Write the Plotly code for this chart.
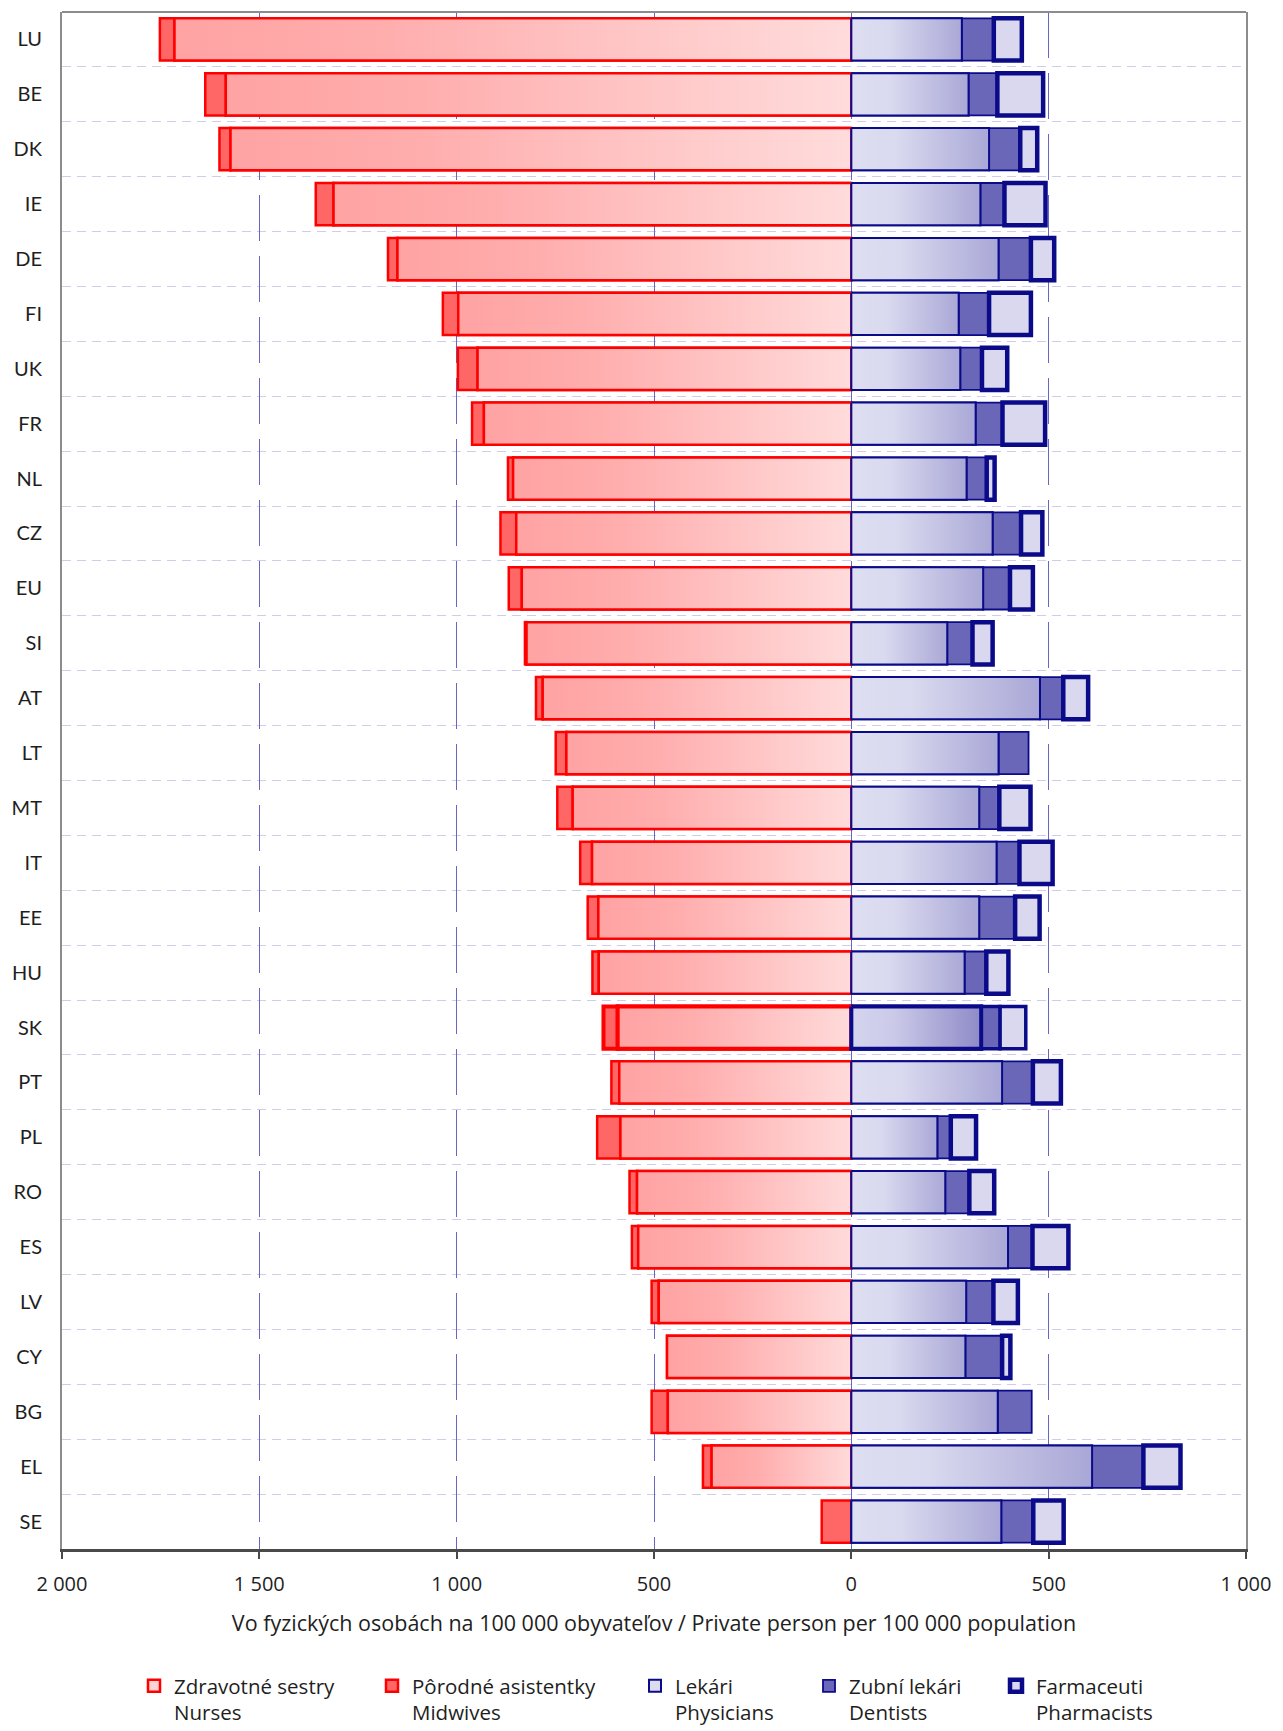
import plotly.graph_objects as go

# Health professionals per 100 000 inhabitants, EU countries
countries = ["LU", "BE", "DK", "IE", "DE", "FI", "UK", "FR", "NL", "CZ", "EU", "SI", "AT", "LT",
             "MT", "IT", "EE", "HU", "SK", "PT", "PL", "RO", "ES", "LV", "CY", "BG", "EL", "SE"]
nurses = [1715, 1585, 1573, 1312, 1150, 996, 947, 931, 857, 849, 835, 823, 782, 722,
          706, 657, 641, 640, 592, 588, 585, 543, 540, 488, 467, 465, 354, 0]
midwives = [37, 52, 28, 45, 24, 39, 50, 30, 13, 40, 33, 4, 17, 27,
            39, 30, 27, 16, 36, 20, 59, 19, 16, 18, 0, 41, 22, 75]
physicians = [280, 297, 349, 327, 373, 272, 276, 315, 292, 358, 334, 243, 478, 373,
              324, 368, 324, 287, 329, 382, 218, 238, 397, 291, 289, 371, 610, 380]
dentists = [81, 73, 79, 61, 82, 77, 55, 68, 51, 72, 68, 64, 59, 76,
            51, 58, 91, 55, 48, 78, 34, 61, 62, 69, 93, 86, 130, 81]
pharmacists = [71, 116, 43, 104, 59, 106, 64, 108, 20, 54, 58, 51, 63, 0,
               79, 84, 62, 56, 65, 71, 64, 63, 91, 62, 21, 0, 94, 77]

x_ticks = [-2000, -1500, -1000, -500, 0, 500, 1000]
x_tick_text = ["2 000", "1 500", "1 000", "500", "0", "500", "1 000"]
x_title = "Vo fyzických osobách na 100 000 obyvateľov / Private person per 100 000 population"
highlight = "SK"

n = len(countries)
pos = list(range(n))
BAR_W = 0.77
HALF = BAR_W / 2
hl = countries.index(highlight)

RED = "#FF0000"
NAVY = "#0B0B8A"
LABEL_FONT = "Lato"
TEXT_FONT = "Open Sans"
INK = "#1E1E1E"


def widths(base, thick):
    return [thick if i == hl else base for i in range(n)]


def neg(vals):
    return [-v if v else None for v in vals]


def keep(vals):
    return [v if v else None for v in vals]


fig = go.Figure()

# --- stacked bars (also provide the legend entries) ---
fig.add_trace(go.Bar(
    y=pos, x=neg(nurses), base=0, orientation="h", width=BAR_W,
    name="Zdravotné sestry<br>Nurses", legend="legend",
    marker=dict(color="#FFD3D3", line=dict(color=RED, width=widths(2.5, 4))),
    hoverinfo="skip"))
fig.add_trace(go.Bar(
    y=pos, x=neg(midwives), base=[-v for v in nurses], orientation="h", width=BAR_W,
    name="Pôrodné asistentky<br>Midwives", legend="legend2",
    marker=dict(color="#FF6666", line=dict(color=RED, width=widths(2.5, 4))),
    hoverinfo="skip"))
fig.add_trace(go.Bar(
    y=pos, x=keep(physicians), base=0, orientation="h", width=BAR_W,
    name="Lekári<br>Physicians", legend="legend3",
    marker=dict(color="#DCDCF0", line=dict(color=NAVY, width=widths(2, 4))),
    hoverinfo="skip"))
fig.add_trace(go.Bar(
    y=pos, x=keep(dentists), base=physicians, orientation="h", width=BAR_W,
    name="Zubní lekári<br>Dentists", legend="legend4",
    marker=dict(color="#6B67B8", line=dict(color=NAVY, width=widths(1.8, 3.5))),
    hoverinfo="skip"))
fig.add_trace(go.Bar(
    y=pos, x=keep(pharmacists), base=[p + d for p, d in zip(physicians, dentists)],
    orientation="h", width=BAR_W,
    name="Farmaceuti<br>Pharmacists", legend="legend5",
    marker=dict(color="#DAD8EE", line=dict(color=NAVY, width=widths(4.5, 3.5))),
    hoverinfo="skip"))

# --- gradient fills for nurses and physicians, one shape per bar ---
for i, p in enumerate(pos):
    ys = [p - HALF, p - HALF, p + HALF, p + HALF, p - HALF]
    v = nurses[i]
    if v:
        fig.add_trace(go.Scatter(
            x=[0, -v, -v, 0, 0], y=ys, mode="lines", fill="toself",
            line=dict(color=RED, width=4 if i == hl else 2.5),
            fillgradient=dict(type="horizontal", start=-v, stop=0,
                              colorscale=[[0, "#FFA3A3"], [0.3, "#FFADAD"], [1, "#FFDCDC"]]),
            showlegend=False, hoverinfo="skip"))
    v = physicians[i]
    if v:
        scale = ([[0, "#D4D4EE"], [0.3, "#CBC9E8"], [1, "#8B87C6"]] if i == hl
                 else [[0, "#DEDEF2"], [0.3, "#D9D9EF"], [1, "#A7A5D5"]])
        fig.add_trace(go.Scatter(
            x=[0, v, v, 0, 0], y=ys, mode="lines", fill="toself",
            line=dict(color=NAVY, width=4 if i == hl else 2),
            fillgradient=dict(type="horizontal", start=0, stop=v, colorscale=scale),
            showlegend=False, hoverinfo="skip"))

legend_style = dict(xref="container", yref="container", xanchor="left", yanchor="top",
                    orientation="h", valign="top", bgcolor="rgba(0,0,0,0)",
                    font=dict(family=TEXT_FONT, size=20.5, color=INK))
legend_x = [134, 372, 635, 809, 996]
legends = {}
for k, lx in enumerate(legend_x):
    key = "legend" if k == 0 else f"legend{k + 1}"
    legends[key] = dict(legend_style, x=lx / 1283, y=1 - 1666 / 1731)

fig.update_layout(
    width=1283, height=1731,
    margin=dict(l=61, r=32, t=12, b=182),
    paper_bgcolor="white", plot_bgcolor="white",
    barmode="overlay",
    font=dict(family=TEXT_FONT, color=INK),
    xaxis=dict(
        range=[-2000, 1000], tickvals=x_ticks, ticktext=x_tick_text,
        showgrid=True, gridcolor="#6866C2", gridwidth=1, griddash="46px,15px",
        zeroline=False, showline=True, linecolor="#4A4A4A", linewidth=3,
        ticks="outside", ticklen=7, tickwidth=1.5, tickcolor="#4A4A4A",
        tickfont=dict(family=TEXT_FONT, size=20, color=INK), ticklabelstandoff=8,
        title=dict(text=x_title, font=dict(family=TEXT_FONT, size=21.5, color=INK), standoff=20),
    ),
    yaxis=dict(
        range=[n - 0.5, -0.5], tickvals=pos, ticktext=countries,
        showgrid=False, zeroline=False, showline=True, mirror=True,
        linecolor="#8C8C8C", linewidth=2, ticks="",
        tickfont=dict(family=LABEL_FONT, size=20, color=INK), ticklabelstandoff=14,
        minor=dict(tickvals=[i + 0.5 for i in range(n - 1)], showgrid=True,
                   gridcolor="#D0CCEC", gridwidth=1.2, griddash="9px,6px"),
    ),
    yaxis2=dict(
        overlaying="y", anchor="free", position=2 / 3, side="right",
        range=[n - 0.5, -0.5], showline=True, linecolor="black", linewidth=1.5,
        ticks="outside", ticklen=6, tickwidth=1.5, tickcolor="black",
        tickvals=[i - 0.5 for i in range(n + 1)], showticklabels=False,
        showgrid=False, zeroline=False,
        minor=dict(tickvals=pos, ticks="outside", ticklen=5, tickwidth=1.5, tickcolor="#777777"),
    ),
    shapes=[dict(type="line", xref="paper", yref="paper", x0=0, x1=1, y0=1, y1=1,
                 line=dict(color="#8C8C8C", width=2), layer="above")],
    **legends,
)

fig.write_html("out.html")
